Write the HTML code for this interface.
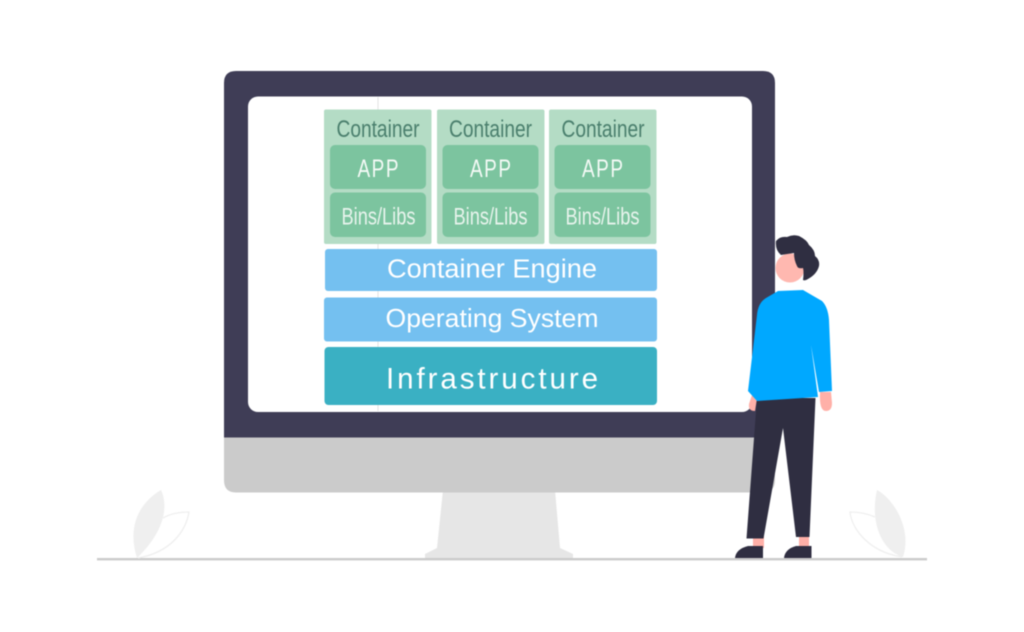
<!DOCTYPE html>
<html>
<head>
<meta charset="utf-8">
<style>
html,body{margin:0;padding:0;background:#fff;width:1024px;height:632px;overflow:hidden}
svg{display:block;filter:blur(.5px)}
text{font-family:"Liberation Sans",sans-serif;text-anchor:start}
</style>
</head>
<body>
<svg width="1024" height="632" viewBox="0 0 1024 632" xmlns="http://www.w3.org/2000/svg">
<rect width="1024" height="632" fill="#fff"/>
<!-- ground -->
<rect x="97" y="558" width="830" height="2.4" fill="#cbcbcb"/>
<!-- leaves left -->
<path d="M137 558C128 530 136 505 161 490C168 505 166 530 137 558Z" fill="#efefef"/>
<path d="M163 518C170 514 180 512 189 512C186 530 172 552 138 558" fill="none" stroke="#efefef" stroke-width="1.3"/>
<!-- leaves right -->
<path d="M903 557C880 550 870 520 877 490C895 500 912 530 903 557Z" fill="#efefef"/>
<path d="M875 517C866 513 858 512 850 512C852 530 870 552 902 557" fill="none" stroke="#efefef" stroke-width="1.3"/>
<!-- stand -->
<path d="M443 490H555L560 548L573 554V558H425V554L437 548Z" fill="#e6e6e6"/>
<!-- monitor -->
<path d="M224 437H775V480Q775 492.500 763 492.500H236Q224 492.500 224 480Z" fill="#cbcbcb"/>
<path d="M236 71H763Q775 71 775 83V437.500H224V83Q224 71 236 71Z" fill="#3f3d56"/>
<rect x="248" y="96.500" width="504" height="315.500" rx="10" fill="#fff"/>
<rect x="377.500" y="97" width="1" height="314" fill="#e4e4e4"/>
<!-- containers -->
<g fill="#b4dcc5">
<rect x="324" y="109.500" width="107.500" height="134.500" rx="2"/>
<rect x="437" y="109.500" width="107.500" height="134.500" rx="2"/>
<rect x="549" y="109.500" width="107.500" height="134.500" rx="2"/>
</g>
<g fill="#7cc49f">
<rect x="330" y="145" width="96" height="44" rx="5"/>
<rect x="330" y="192.500" width="96" height="44.500" rx="5"/>
<rect x="442.500" y="145" width="96" height="44" rx="5"/>
<rect x="442.500" y="192.500" width="96" height="44.500" rx="5"/>
<rect x="554.500" y="145" width="96" height="44" rx="5"/>
<rect x="554.500" y="192.500" width="96" height="44.500" rx="5"/>
</g>
<g fill="#4a7f6d" font-size="24.500">
<text x="336.500" y="137" textLength="83" lengthAdjust="spacingAndGlyphs">Container</text>
<text x="449" y="137" textLength="83" lengthAdjust="spacingAndGlyphs">Container</text>
<text x="561.500" y="137" textLength="83" lengthAdjust="spacingAndGlyphs">Container</text>
</g>
<g fill="#f4faf6" font-size="25" letter-spacing="2">
<text transform="translate(357.500 177) scale(.76 1)">APP</text>
<text transform="translate(470 177) scale(.76 1)">APP</text>
<text transform="translate(582 177) scale(.76 1)">APP</text>
</g>
<g fill="#e8f4ed" font-size="24">
<text x="341.500" y="224.500" textLength="74" lengthAdjust="spacingAndGlyphs">Bins/Libs</text>
<text x="453.500" y="224.500" textLength="74" lengthAdjust="spacingAndGlyphs">Bins/Libs</text>
<text x="565.500" y="224.500" textLength="74" lengthAdjust="spacingAndGlyphs">Bins/Libs</text>
</g>
<!-- layers -->
<rect x="325" y="249" width="332" height="42" rx="3" fill="#74c0f0"/>
<rect x="324" y="297.500" width="333" height="44" rx="3" fill="#74c0f0"/>
<rect x="324.500" y="347" width="332.500" height="58" rx="4" fill="#3ab0c3"/>
<g fill="#fff">
<text x="387" y="277.500" font-size="25.500" textLength="210" lengthAdjust="spacingAndGlyphs">Container Engine</text>
<text x="385.500" y="327" font-size="26" textLength="213" lengthAdjust="spacingAndGlyphs">Operating System</text>
<text x="386" y="388.500" font-size="29.500" textLength="212" lengthAdjust="spacing">Infrastructure</text>
</g>
<!-- person -->
<path d="M753 392L749 404Q748 411 755 411L758 392Z" fill="#ffb0a8"/>
<path d="M820 392Q819 411 826 411Q832 411 832 403L831 392Z" fill="#ffb0a8"/>
<rect x="753" y="536" width="11" height="12" fill="#ffb0a8"/>
<rect x="799" y="536" width="10" height="12" fill="#ffb0a8"/>
<path d="M757 398H815.500L809.500 537H796L783 428L763.500 538.500H746.500Z" fill="#2f2e41"/>
<path d="M748 546H763V558H735Q736 549 748 546Z" fill="#2f2e41"/>
<path d="M796 546H811.500V558H784Q785 549 796 546Z" fill="#2f2e41"/>
<path d="M778 291L803 290L822 301Q828 307 829 320L832 391L819 392L811 345L818 397L757 401L748 391L757 315Q758 303 766 298Z" fill="#00a8ff"/>
<circle cx="790" cy="268" r="14.500" fill="#ffb8b0"/>
<path d="M776 241Q780 236 787 237Q793 234 799 236Q807 240 809 245Q815 250 815 256Q820 260 819 266Q817 274 808 279Q805 281 803 280Q804 272 803 268Q798 269 797 266Q794 260 794 253Q787 254 781 255Q775 250 776 241Z" fill="#2f2e41"/>
</svg>
</body>
</html>
